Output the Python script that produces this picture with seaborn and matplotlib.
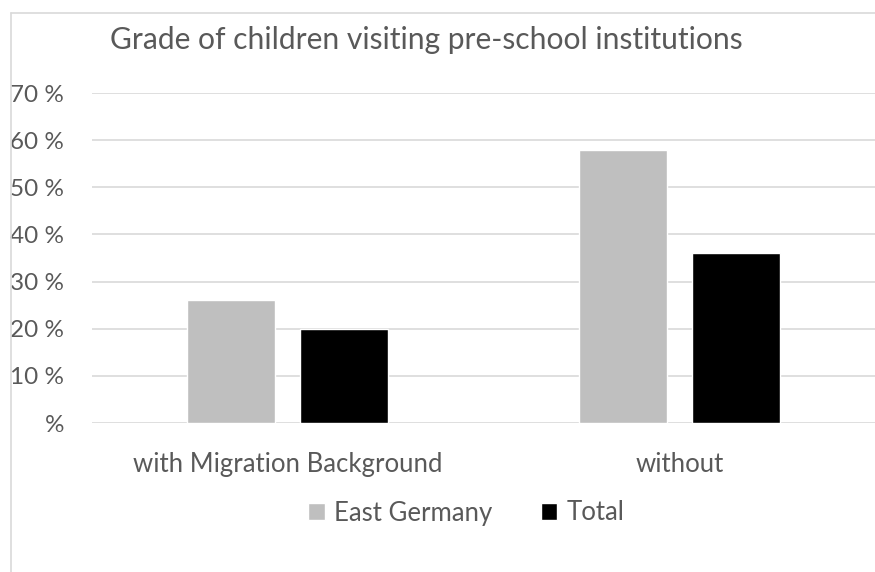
import matplotlib
matplotlib.use("Agg")
import matplotlib.pyplot as plt
import seaborn as sns
import pandas as pd
from matplotlib.lines import Line2D

categories = ["with Migration Background", "without"]
series_names = ["East Germany", "Total"]
east_germany = [26, 58]
total = [20, 36]
y_ticks = [0, 10, 20, 30, 40, 50, 60, 70]
y_tick_labels = ["%", "10 %", "20 %", "30 %", "40 %", "50 %", "60 %", "70 %"]
title = "Grade of children visiting pre-school institutions"

df = pd.DataFrame({
    "category": categories * 2,
    "series": [series_names[0]] * 2 + [series_names[1]] * 2,
    "value": east_germany + total,
})

sns.set_theme(style="white")
plt.rcParams["font.family"] = ["Lato", "DejaVu Sans"]

text_color = "#595959"
grid_color = "#D9D9D9"

fig = plt.figure(figsize=(8.75, 5.72), dpi=100)
ax = fig.add_axes([92 / 875, 1 - 423 / 572, 1 - 92 / 875, (423 - 93) / 572])

sns.barplot(data=df, x="category", y="value", hue="series", order=categories,
            hue_order=series_names, palette=["#BFBFBF", "#000000"],
            width=0.578, gap=0.22, ax=ax, legend=False, saturation=1)

ax.set_ylim(0, 70)
ax.set_xlim(-0.5, 1.5)
ax.set_yticks(y_ticks)
ax.set_yticklabels(y_tick_labels)
ax.set_xlabel("")
ax.set_ylabel("")
for s in ax.spines.values():
    s.set_visible(False)
ax.grid(axis="y", color=grid_color, linewidth=1.2)
ax.set_axisbelow(True)
ax.tick_params(axis="y", length=0, pad=20, labelsize=17.5, labelcolor=text_color)
ax.tick_params(axis="x", length=0, pad=21, labelsize=18.5, labelcolor=text_color)
for lab in ax.get_yticklabels():
    lab.set_horizontalalignment("right")

fig.text(426 / 875, 1 - 40 / 572, title, ha="center", va="center",
         fontsize=21.6, color=text_color)

handles = [plt.Rectangle((0, 0), 1, 1, facecolor=c) for c in ["#BFBFBF", "#000000"]]
fig.legend(handles, series_names, loc="center", bbox_to_anchor=(466 / 875, 1 - 513 / 572),
           ncol=2, frameon=False, fontsize=18.5, labelcolor=text_color,
           handlelength=0.65, handleheight=0.65, handletextpad=0.35, columnspacing=1.9)

fig.add_artist(Line2D([10.5 / 875, 10.5 / 875], [0, 1 - 13 / 572], transform=fig.transFigure,
                      color=grid_color, linewidth=1.2))
fig.add_artist(Line2D([10.5 / 875, 1], [1 - 13 / 572, 1 - 13 / 572], transform=fig.transFigure,
                      color=grid_color, linewidth=1.2))

fig.savefig("out.png", dpi=100)
